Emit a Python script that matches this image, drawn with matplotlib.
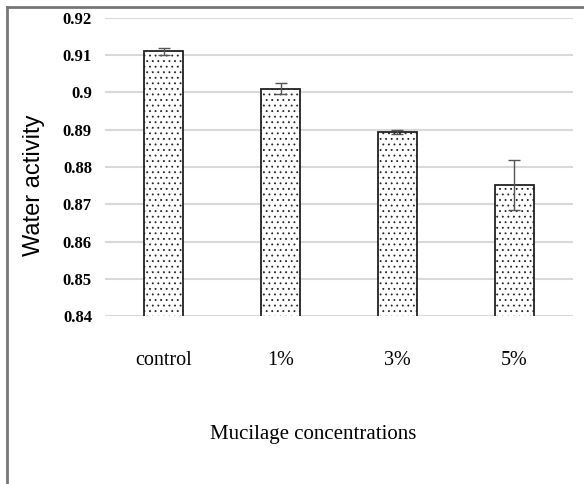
import matplotlib
matplotlib.use("Agg")
import matplotlib.pyplot as plt
from matplotlib.lines import Line2D

categories = ["control", "1%", "3%", "5%"]
values = [0.911, 0.901, 0.8894, 0.8752]
errors = [0.001, 0.0015, 0.0005, 0.0068]
yticks = [0.84, 0.85, 0.86, 0.87, 0.88, 0.89, 0.9, 0.91, 0.92]
ytick_labels = ["0.84", "0.85", "0.86", "0.87", "0.88", "0.89", "0.9", "0.91", "0.92"]

plt.rcParams['hatch.linewidth'] = 0.6
fig = plt.figure(figsize=(5.84, 4.84), dpi=100)
ax = fig.add_axes([0.18, 0.347, 0.801, 0.616])

x = list(range(len(categories)))
ax.bar(x, values, width=0.33, color="white", edgecolor="#222222", linewidth=1.3,
       hatch="...", zorder=3,
       yerr=errors, ecolor="#555555", capsize=4,
       error_kw=dict(elinewidth=1.0, capthick=1.0, zorder=4))

ax.set_ylim(0.84, 0.92)
ax.set_xlim(-0.5, len(categories) - 0.5)
ax.set_yticks(yticks)
ax.set_yticklabels(ytick_labels, fontfamily="Liberation Serif", fontweight="bold", fontsize=12)
ax.set_xticks(x)
ax.set_xticklabels(categories, fontfamily="Liberation Serif", fontsize=14.5)
ax.tick_params(axis="both", length=0)
ax.tick_params(axis="x", pad=25)
ax.tick_params(axis="y", pad=9.5)
ax.yaxis.grid(True, color="#d9d9d9", linewidth=1.5, zorder=0)
ax.set_axisbelow(True)
for s in ax.spines.values():
    s.set_visible(False)

fig.text(313 / 584, 1 - 434 / 484, "Mucilage concentrations", fontfamily="Liberation Serif",
         fontsize=15, ha="center", va="center")
fig.text(34 / 584, 1 - 185 / 484, "Water activity", fontfamily="Liberation Sans",
         fontsize=17, rotation=90, ha="center", va="center")

# outer frame (left and top edges visible)
fig.add_artist(Line2D([7 / 584, 7 / 584], [0, 1 - 7 / 484], transform=fig.transFigure,
                      color="#777777", linewidth=2))
fig.add_artist(Line2D([7 / 584, 1], [1 - 7 / 484, 1 - 7 / 484], transform=fig.transFigure,
                      color="#777777", linewidth=2))

fig.savefig("out.png", dpi=100)
